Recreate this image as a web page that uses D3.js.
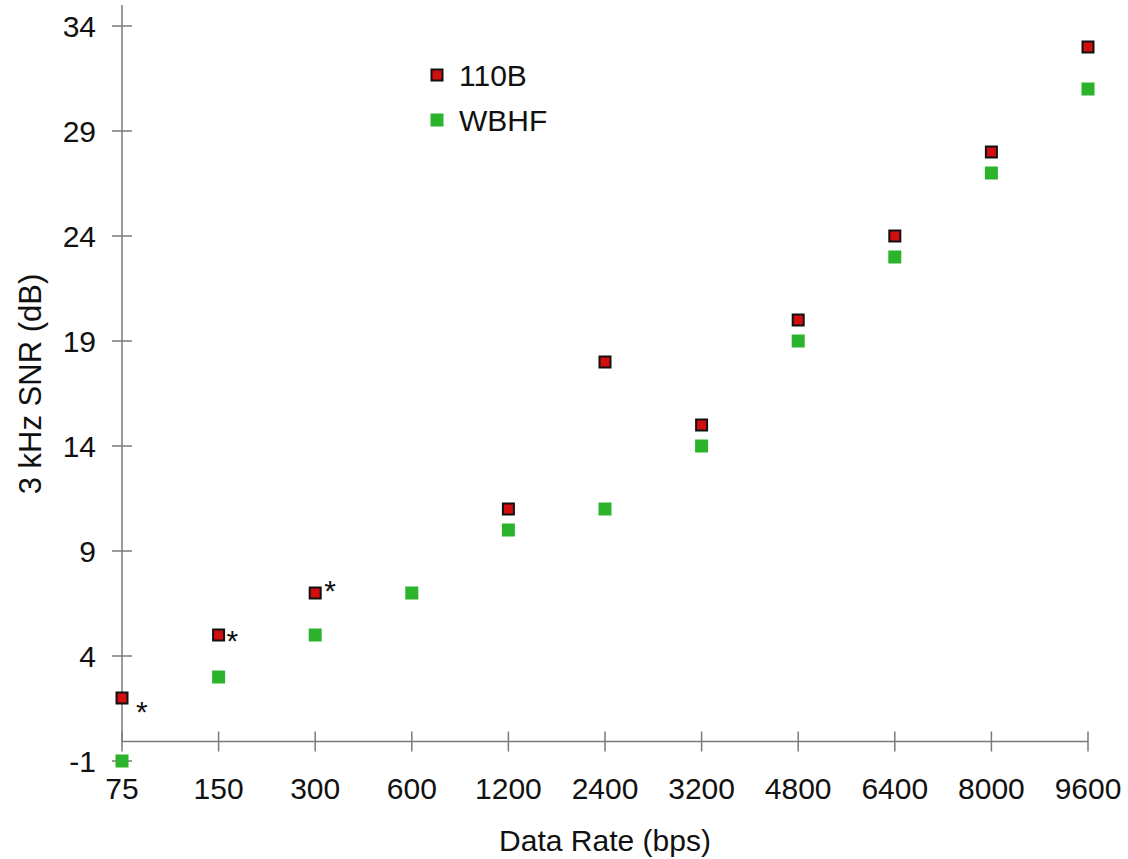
<!DOCTYPE html>
<html>
<head>
<meta charset="utf-8">
<script src="https://cdn.jsdelivr.net/npm/d3@7"></script>
<style>
  body { margin: 0; background: #fff; }
  text { font-family: "Liberation Sans", Arial, sans-serif; fill: #111; }
</style>
</head>
<body>
<svg width="1128" height="859"></svg>
<script>
// data
const rates = ['75', '150', '300', '600', '1200', '2400', '3200', '4800', '6400', '8000', '9600'];
const snr110B = [2, 5, 7, null, 11, 18, 15, 20, 24, 28, 33];
const snrWBHF = [-1, 3, 5, 7, 10, 11, 14, 19, 23, 27, 31];
const yTicks = [-1, 4, 9, 14, 19, 24, 29, 34];
const starred = ['75', '150', '300'];   // 110B points marked with *

const svg = d3.select('svg');

let x = d3.scalePoint().domain(rates).range([122, 1088]);
let y = d3.scaleLinear().domain([-1, 35]).range([761, 5]);

let axisCol = '#7a7a7a';
let tickFont = 30;
let mSize = 13;
let xAxisY = Math.round(y(0)) + 1.5;

// y axis line + cross ticks
svg.append('line')
   .attr('x1', x('75')).attr('x2', x('75'))
   .attr('y1', y(35)).attr('y2', xAxisY)
   .style('stroke', axisCol).style('stroke-width', 1.5);

let yg = svg.append('g').classed('yTicks', true);
yg.selectAll('line')
  .data(yTicks)
  .enter()
  .append('line')
  .attr('x1', x('75') - 10).attr('x2', x('75') + 10)
  .attr('y1', d => y(d)).attr('y2', d => y(d))
  .style('stroke', axisCol).style('stroke-width', 1.5);

yg.selectAll('text')
  .data(yTicks)
  .enter()
  .append('text')
  .text(d => d)
  .attr('x', 96)
  .attr('y', d => y(d))
  .attr('dy', '0.36em')
  .style('text-anchor', 'end')
  .style('font-size', `${tickFont}px`);

// x axis sits at 0 dB
svg.append('path')
   .attr('d', `M${x('75')},${xAxisY}H${x('9600')}`)
   .style('fill', 'none')
   .style('stroke', axisCol).style('stroke-width', 1.5);

let xg = svg.append('g').classed('xTicks', true);
xg.selectAll('line')
  .data(rates)
  .enter()
  .append('line')
  .attr('x1', d => x(d)).attr('x2', d => x(d))
  .attr('y1', xAxisY - 10).attr('y2', xAxisY + 10)
  .style('stroke', axisCol).style('stroke-width', 1.5);

xg.selectAll('text')
  .data(rates)
  .enter()
  .append('text')
  .text(d => d)
  .attr('x', d => x(d))
  .attr('y', 799)
  .style('text-anchor', 'middle')
  .style('font-size', `${tickFont}px`);

// axis titles
svg.append('text')
   .text('Data Rate (bps)')
   .attr('x', x('2400'))
   .attr('y', 851)
   .style('text-anchor', 'middle')
   .style('font-size', '30px');

svg.append('text')
   .text('3 kHz SNR (dB)')
   .attr('transform', 'translate(41, 384) rotate(-90)')
   .style('text-anchor', 'middle')
   .style('font-size', '31px');

// points
const pts = (vals, name) => rates.map((r, i) => ({ rate: r, v: vals[i], s: name }))
                                 .filter(d => d.v !== null);

svg.append('g').selectAll('rect')
   .data(pts(snrWBHF, 'WBHF'))
   .enter()
   .append('rect')
   .attr('x', d => x(d.rate) - mSize / 2)
   .attr('y', d => y(d.v) - mSize / 2)
   .attr('width', mSize).attr('height', mSize)
   .style('fill', '#2bb42b');

svg.append('g').selectAll('rect')
   .data(pts(snr110B, '110B'))
   .enter()
   .append('rect')
   .attr('x', d => x(d.rate) - (mSize - 2) / 2)
   .attr('y', d => y(d.v) - (mSize - 2) / 2)
   .attr('width', mSize - 2).attr('height', mSize - 2)
   .style('fill', '#d20f0f')
   .style('stroke', '#111')
   .style('stroke-width', 2);

// asterisks next to some 110B points
let starOff = { '75': [14, 24], '150': [8, 16], '300': [9, 8] };
svg.append('g').selectAll('text')
   .data(pts(snr110B, '110B').filter(d => starred.includes(d.rate)))
   .enter()
   .append('text')
   .text('*')
   .attr('x', d => x(d.rate) + starOff[d.rate][0])
   .attr('y', d => y(d.v) + starOff[d.rate][1])
   .style('font-size', '30px');

// legend
let legend = svg.append('g').attr('transform', 'translate(437, 0)');
let legItems = [
  { name: '110B', fill: '#d20f0f', stroke: '#111', yc: 75 },
  { name: 'WBHF', fill: '#2bb42b', stroke: 'none', yc: 120 }
];
let lg = legend.selectAll('g')
   .data(legItems)
   .enter()
   .append('g')
   .attr('transform', d => `translate(0, ${d.yc})`);

lg.append('rect')
  .attr('x', d => d.stroke === 'none' ? -mSize / 2 : -(mSize - 2) / 2)
  .attr('y', d => d.stroke === 'none' ? -mSize / 2 : -(mSize - 2) / 2)
  .attr('width', d => d.stroke === 'none' ? mSize : mSize - 2)
  .attr('height', d => d.stroke === 'none' ? mSize : mSize - 2)
  .style('fill', d => d.fill)
  .style('stroke', d => d.stroke)
  .style('stroke-width', 2);

lg.append('text')
  .text(d => d.name)
  .attr('x', 22)
  .attr('dy', '0.36em')
  .style('font-size', '30px');
</script>
</body>
</html>
